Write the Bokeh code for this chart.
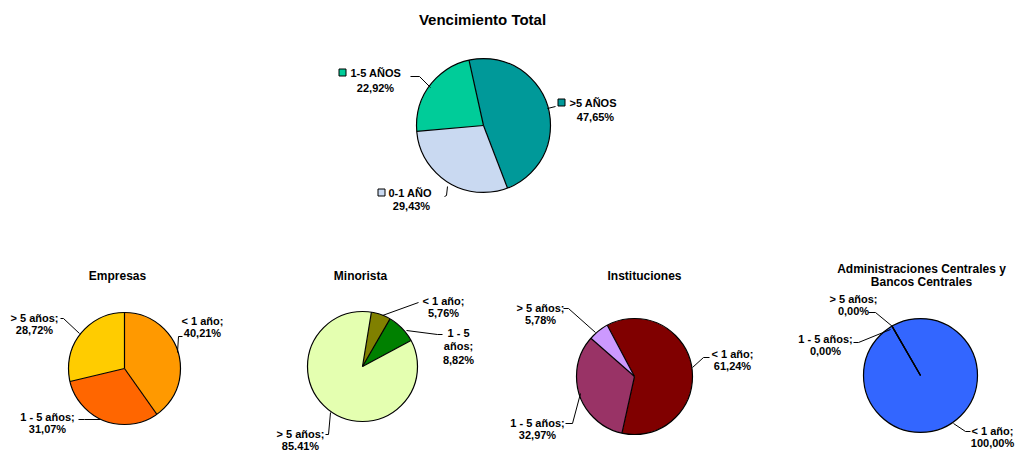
import math
from bokeh.plotting import figure
from bokeh.models import Range1d
from bokeh.core.properties import value
from bokeh.embed import file_html
from bokeh.resources import INLINE

# ---------------- data ----------------
total_labels = [">5 AÑOS", "0-1 AÑO", "1-5 AÑOS"]
total_values = [47.65, 29.43, 22.92]
total_colors = ["#009999", "#C9D9F1", "#00CC99"]

seg_labels = ["< 1 año", "1 - 5 años", "> 5 años"]
empresas_values = [40.21, 31.07, 28.72]
minorista_values = [5.76, 8.82, 85.41]
instituciones_values = [61.24, 32.97, 5.78]
admin_values = [100.00, 0.00, 0.00]

empresas_colors = ["#FF9900", "#FF6600", "#FFCC00"]
minorista_colors = ["#808000", "#008000", "#E4FFB0"]
instituciones_colors = ["#800000", "#993366", "#CC99FF"]
admin_colors = ["#3366FF", "#3366FF", "#3366FF"]

W, H = 1015, 450
FONT = value("Liberation Sans")

p = figure(width=W, height=H, output_backend="svg", toolbar_location=None,
           x_range=Range1d(0, W), y_range=Range1d(0, H), min_border=0)
p.axis.visible = False
p.grid.visible = False
p.outline_line_color = None
p.background_fill_color = "white"
p.border_fill_color = "white"


def Y(y):
    return H - y


def pct(v):
    return f"{v:.2f}".replace(".", ",") + "%"


def draw_pie(cx, cy, r, start_deg, values, colors):
    total = sum(values)
    theta = start_deg
    bounds = [theta]
    for v, c in zip(values, colors):
        frac = v / total
        t2 = theta + frac * 360.0
        if frac >= 0.9999:
            p.circle(x=[cx], y=[Y(cy)], radius=r, fill_color=c, line_color=None)
        elif frac > 0:
            p.wedge(x=[cx], y=[Y(cy)], radius=r,
                    start_angle=math.radians(90 - theta), end_angle=math.radians(90 - t2),
                    direction="clock", fill_color=c, line_color=None)
        theta = t2
        bounds.append(theta)
    # radial boundaries
    x1, y1 = [], []
    for b in bounds[:-1]:
        a = math.radians(90 - b)
        x1.append(cx + r * math.cos(a))
        y1.append(Y(cy) + r * math.sin(a))
    p.segment(x0=[cx] * len(x1), y0=[Y(cy)] * len(x1), x1=x1, y1=y1,
              line_color="black", line_width=1.2)
    p.circle(x=[cx], y=[Y(cy)], radius=r, fill_color=None, line_color="black", line_width=1.2)


def txt(x, y, s, size="11px", align="center"):
    p.text(x=[x], y=[Y(y)], text=[s], text_font=FONT, text_font_style="bold",
           text_font_size=size, text_align=align, text_baseline="middle", text_color="black")


def leader(pts):
    p.line(x=[a for a, b in pts], y=[Y(b) for a, b in pts], line_color="black", line_width=1)


# ---------------- top chart ----------------
txt(482, 19, "Vencimiento Total", size="15px")
draw_pie(483, 125, 67, -12.5, total_values, total_colors)

top_layout = [  # (square x, y, text x, pct center x, pct y)
    (561, 102, 569, 595, 116),
    (381, 192, 388, 411, 205),
    (342, 72, 350, 375, 87),
]
for lab, v, c, (sx, sy, tx, px, py) in zip(total_labels, total_values, total_colors, top_layout):
    p.scatter(x=[sx], y=[Y(sy)], marker="square", size=7, fill_color=c, line_color="black", line_width=1)
    txt(tx, sy, lab, align="left")
    txt(px, py, pct(v))
leader([(547, 108), (555, 106)])
leader([(444, 196), (446, 195), (447, 186)])
leader([(410, 76), (419, 76), (430, 87)])

# ---------------- small charts ----------------
charts = [
    dict(title=["Empresas"], ty=275, tx=117, c=(124, 368, 56), start=0.0,
         values=empresas_values, colors=empresas_colors,
         labels=[(202, 320, None), (47, 416, None), (34, 317, None)],
         leaders=[[(182, 336), (178, 336), (177, 352)],
                  [(78, 419), (84, 419), (100, 419)],
                  [(60, 318), (63, 318), (79, 333)]]),
    dict(title=["Minorista"], ty=275, tx=360, c=(362, 366, 55), start=9.3,
         values=minorista_values, colors=minorista_colors,
         labels=[(443, 300, None), (458, 332, ["1 - 5", "años;"]), (300, 433, None)],
         leaders=[[(418, 302), (382, 315)],
                  [(442, 334), (437, 334), (406, 330)],
                  [(325, 434), (328, 434), (330, 412)]]),
    dict(title=["Instituciones"], ty=275, tx=644, c=(634, 376, 58), start=-28.0,
         values=instituciones_values, colors=instituciones_colors,
         labels=[(732, 353, None), (537, 422, None), (540, 307, None)],
         leaders=[[(709, 357), (703, 357), (692, 367)],
                  [(565, 423), (572, 423), (580, 393)],
                  [(563, 308), (568, 308), (595, 332)]]),
    dict(title=["Administraciones Centrales y", "Bancos Centrales"], ty=268, tx=921,
         c=(920, 375, 57), start=-30.0,
         values=admin_values, colors=admin_colors,
         labels=[(992, 430, None), (825, 338, None), (853, 298, None)],
         leaders=[[(970, 431), (965, 431), (953, 423)],
                  [(853, 342), (858, 342), (890, 329)],
                  [(868, 312), (875, 312), (892, 326)]]),
]

for ch in charts:
    for i, t in enumerate(ch["title"]):
        txt(ch["tx"], ch["ty"] + 13 * i, t, size="12px")
    cx, cy, r = ch["c"]
    draw_pie(cx, cy, r, ch["start"], ch["values"], ch["colors"])
    for lab, v, (lx, ly, wrap) in zip(seg_labels, ch["values"], ch["labels"]):
        lines = wrap if wrap else [lab + ";"]
        lines = lines + [pct(v)]
        step = 13.5 if wrap else 12
        for k, s in enumerate(lines):
            txt(lx, ly + step * k, s)
    for pts in ch["leaders"]:
        leader(pts)

open("out.html", "w").write(file_html(p, INLINE))
